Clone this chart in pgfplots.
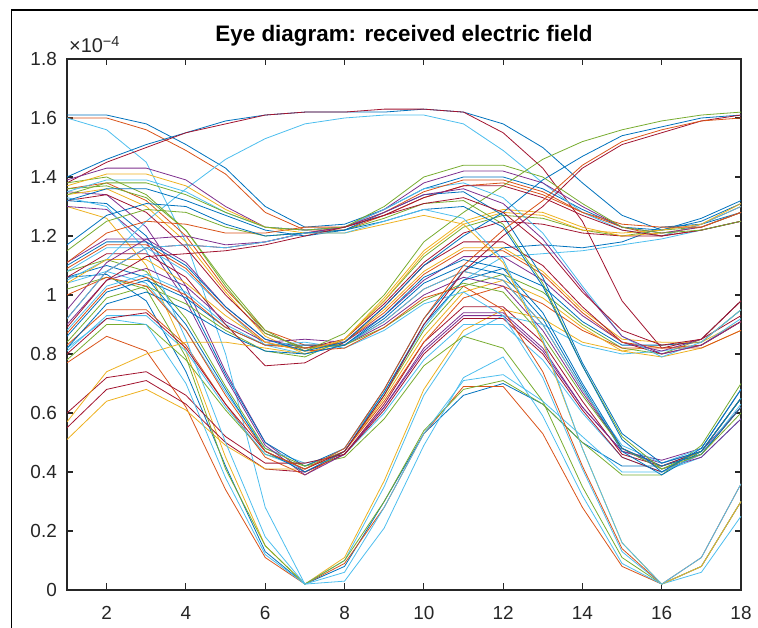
\documentclass[border=0pt]{standalone}
\usepackage{pgfplots}
\pgfplotsset{compat=1.18}
\usepackage{fontspec}
\setmainfont{Liberation Sans}
\definecolor{c1}{RGB}{0,114,189}
\definecolor{c2}{RGB}{217,83,25}
\definecolor{c3}{RGB}{237,177,32}
\definecolor{c4}{RGB}{126,47,142}
\definecolor{c5}{RGB}{119,172,48}
\definecolor{c6}{RGB}{77,190,238}
\definecolor{c7}{RGB}{162,20,47}
\definecolor{ax}{RGB}{38,38,38}
\newcommand{\tr}[2]{\addplot[#1] table[header=false,row sep=\\,x expr=\coordindex+1,y index=0]{#2};}
\begin{document}
\begin{tikzpicture}
\path[use as bounding box] (0,0) rectangle (758bp,628bp);
\draw[line width=1.8bp,black] (11.5bp,0) -- (11.5bp,618bp) -- (758bp,618bp);
\begin{axis}[
  at={(67bp,38bp)}, anchor=south west,
  scale only axis, width=674bp, height=531bp,
  xmin=1, xmax=18, ymin=0, ymax=1.8,
  xtick={2,4,6,8,10,12,14,16,18},
  ytick={0,0.2,0.4,0.6,0.8,1,1.2,1.4,1.6,1.8},
  /pgf/number format/assume math mode=true,
  tick align=inside, major tick length=6.5bp,
  axis line style={line width=1.2bp, color=ax},
  every tick/.style={line width=1.1bp, color=ax},
  tick label style={font=\fontsize{19}{19}\selectfont, color=ax, inner sep=0pt},
  xticklabel style={anchor=base, yshift=-29bp},
  yticklabel style={anchor=base east, xshift=-10bp, yshift=-6.8bp},
  title={Eye diagram: received electric field},
  title style={font=\bfseries\fontsize{22.5}{26}\selectfont, at={(0.5,1)}, anchor=base, yshift=12bp, inner sep=0pt},
  every axis plot/.append style={line width=0.8bp, no marks},
]
\tr{c1}{1.06\\1.07\\0.98\\0.74\\0.42\\0.13\\0.02\\0.08\\0.30\\0.53\\0.66\\0.70\\0.63\\0.50\\0.42\\0.42\\0.47\\0.65\\}
\tr{c2}{0.77\\0.86\\0.81\\0.62\\0.34\\0.11\\0.02\\0.09\\0.28\\0.53\\0.69\\0.69\\0.53\\0.28\\0.08\\0.02\\0.08\\0.30\\}
\tr{c1}{1.61\\1.61\\1.58\\1.51\\1.43\\1.30\\1.23\\1.24\\1.29\\1.36\\1.40\\1.40\\1.36\\1.29\\1.23\\1.22\\1.25\\1.31\\}
\tr{c3}{1.30\\1.26\\1.10\\0.81\\0.45\\0.15\\0.02\\0.11\\0.37\\0.68\\0.88\\0.95\\0.92\\0.84\\0.81\\0.83\\0.84\\0.91\\}
\tr{c4}{1.35\\1.34\\1.23\\1.03\\0.74\\0.50\\0.40\\0.46\\0.62\\0.81\\0.93\\0.93\\0.81\\0.62\\0.47\\0.43\\0.47\\0.62\\}
\tr{c5}{0.78\\0.90\\0.90\\0.78\\0.61\\0.46\\0.42\\0.47\\0.66\\0.88\\1.03\\1.07\\1.01\\0.90\\0.82\\0.80\\0.85\\0.98\\}
\tr{c2}{1.60\\1.60\\1.56\\1.49\\1.41\\1.28\\1.22\\1.22\\1.27\\1.33\\1.37\\1.38\\1.34\\1.28\\1.23\\1.20\\1.24\\1.30\\}
\tr{c6}{1.04\\1.08\\1.04\\0.88\\0.67\\0.48\\0.43\\0.46\\0.60\\0.78\\0.90\\0.90\\0.78\\0.60\\0.45\\0.40\\0.45\\0.58\\}
\tr{c7}{0.55\\0.68\\0.71\\0.63\\0.50\\0.41\\0.40\\0.46\\0.63\\0.84\\0.96\\0.96\\0.84\\0.64\\0.46\\0.42\\0.47\\0.65\\}
\tr{c1}{1.32\\1.31\\1.20\\1.00\\0.73\\0.50\\0.42\\0.48\\0.68\\0.92\\1.08\\1.16\\1.17\\1.16\\1.18\\1.23\\1.24\\1.28\\}
\tr{c6}{1.60\\1.56\\1.45\\1.18\\0.80\\0.28\\0.02\\0.10\\0.35\\0.66\\0.86\\0.93\\0.90\\0.83\\0.80\\0.81\\0.83\\0.92\\}
\tr{c2}{0.83\\0.95\\0.95\\0.83\\0.63\\0.45\\0.39\\0.47\\0.64\\0.84\\0.99\\1.03\\0.97\\0.88\\0.82\\0.82\\0.83\\0.91\\}
\tr{c3}{0.51\\0.64\\0.68\\0.61\\0.49\\0.41\\0.41\\0.47\\0.65\\0.86\\1.01\\1.05\\0.99\\0.89\\0.81\\0.79\\0.82\\0.88\\}
\tr{c5}{1.08\\1.12\\1.08\\0.92\\0.69\\0.48\\0.42\\0.45\\0.58\\0.76\\0.86\\0.82\\0.64\\0.35\\0.11\\0.02\\0.08\\0.30\\}
\tr{c4}{1.30\\1.29\\1.18\\0.98\\0.72\\0.49\\0.39\\0.46\\0.62\\0.82\\0.94\\0.94\\0.82\\0.62\\0.47\\0.44\\0.48\\0.68\\}
\tr{c1}{1.40\\1.46\\1.51\\1.55\\1.59\\1.61\\1.62\\1.62\\1.62\\1.63\\1.62\\1.58\\1.50\\1.38\\1.27\\1.22\\1.26\\1.32\\}
\tr{c6}{0.81\\0.93\\0.93\\0.81\\0.62\\0.46\\0.41\\0.48\\0.67\\0.89\\1.05\\1.13\\1.14\\1.15\\1.17\\1.19\\1.22\\1.25\\}
\tr{c7}{0.60\\0.72\\0.74\\0.66\\0.52\\0.43\\0.43\\0.46\\0.61\\0.80\\0.92\\0.92\\0.80\\0.61\\0.45\\0.40\\0.46\\0.62\\}
\tr{c1}{1.06\\1.10\\1.06\\0.90\\0.68\\0.47\\0.40\\0.47\\0.67\\0.90\\1.05\\1.09\\1.03\\0.91\\0.83\\0.83\\0.84\\0.95\\}
\tr{c7}{1.38\\1.45\\1.50\\1.55\\1.58\\1.61\\1.62\\1.62\\1.63\\1.63\\1.62\\1.55\\1.43\\1.25\\0.98\\0.82\\0.85\\0.93\\}
\tr{c2}{1.36\\1.38\\1.32\\1.20\\1.02\\0.88\\0.83\\0.83\\0.91\\1.02\\1.08\\1.05\\0.90\\0.68\\0.48\\0.42\\0.46\\0.62\\}
\tr{c3}{1.34\\1.36\\1.30\\1.18\\1.01\\0.86\\0.80\\0.84\\0.95\\1.08\\1.16\\1.16\\1.08\\0.95\\0.85\\0.84\\0.84\\0.95\\}
\tr{c4}{1.11\\1.19\\1.19\\1.11\\0.96\\0.85\\0.82\\0.83\\0.90\\1.00\\1.06\\1.03\\0.88\\0.67\\0.48\\0.41\\0.45\\0.58\\}
\tr{c5}{1.02\\1.06\\1.02\\0.79\\0.41\\0.15\\0.02\\0.10\\0.30\\0.54\\0.68\\0.71\\0.63\\0.50\\0.39\\0.39\\0.49\\0.70\\}
\tr{c5}{0.84\\0.99\\1.03\\0.97\\0.88\\0.81\\0.79\\0.85\\0.98\\1.13\\1.23\\1.27\\1.26\\1.22\\1.20\\1.22\\1.23\\1.28\\}
\tr{c6}{0.88\\1.03\\1.07\\1.01\\0.90\\0.83\\0.84\\0.82\\0.88\\0.97\\1.01\\0.93\\0.72\\0.41\\0.13\\0.02\\0.08\\0.30\\}
\tr{c7}{1.06\\1.14\\1.14\\1.06\\0.90\\0.76\\0.77\\0.84\\0.96\\1.10\\1.18\\1.18\\1.10\\0.96\\0.84\\0.80\\0.83\\0.91\\}
\tr{c6}{1.05\\1.12\\1.25\\1.36\\1.46\\1.53\\1.58\\1.60\\1.61\\1.61\\1.58\\1.49\\1.38\\1.28\\1.22\\1.20\\1.24\\1.30\\}
\tr{c1}{0.86\\1.01\\1.05\\0.99\\0.89\\0.83\\0.83\\0.83\\0.92\\1.04\\1.10\\1.07\\0.92\\0.69\\0.47\\0.39\\0.47\\0.65\\}
\tr{c7}{1.32\\1.34\\1.28\\1.16\\1.00\\0.87\\0.82\\0.85\\0.97\\1.11\\1.21\\1.25\\1.24\\1.21\\1.20\\1.20\\1.22\\1.25\\}
\tr{c6}{1.08\\1.16\\1.16\\1.08\\0.95\\0.83\\0.80\\0.83\\0.91\\1.02\\1.08\\1.05\\0.90\\0.68\\0.49\\0.43\\0.48\\0.68\\}
\tr{c6}{1.33\\1.30\\1.15\\0.85\\0.50\\0.18\\0.02\\0.06\\0.28\\0.53\\0.71\\0.73\\0.64\\0.52\\0.40\\0.40\\0.46\\0.63\\}
\tr{c4}{0.90\\1.05\\1.09\\1.03\\0.91\\0.84\\0.85\\0.84\\0.93\\1.05\\1.13\\1.13\\1.05\\0.93\\0.84\\0.81\\0.85\\0.98\\}
\tr{c5}{1.38\\1.40\\1.34\\1.22\\1.03\\0.87\\0.82\\0.83\\0.89\\0.98\\1.04\\1.01\\0.86\\0.66\\0.48\\0.41\\0.47\\0.65\\}
\tr{c3}{0.57\\0.74\\0.80\\0.84\\0.84\\0.82\\0.80\\0.85\\0.99\\1.15\\1.25\\1.29\\1.28\\1.23\\1.20\\1.21\\1.23\\1.28\\}
\tr{c2}{1.09\\1.17\\1.17\\1.09\\0.95\\0.84\\0.81\\0.82\\0.89\\0.99\\1.03\\0.95\\0.74\\0.42\\0.14\\0.02\\0.11\\0.36\\}
\tr{c6}{0.82\\0.92\\0.90\\0.70\\0.38\\0.12\\0.02\\0.03\\0.21\\0.49\\0.72\\0.79\\0.59\\0.32\\0.09\\0.02\\0.06\\0.25\\}
\tr{c1}{0.82\\0.97\\1.01\\0.95\\0.87\\0.81\\0.80\\0.83\\0.93\\1.06\\1.12\\1.09\\0.94\\0.70\\0.48\\0.42\\0.46\\0.62\\}
\tr{c2}{0.87\\1.02\\1.06\\1.00\\0.89\\0.83\\0.82\\0.84\\0.94\\1.07\\1.15\\1.15\\1.07\\0.94\\0.84\\0.82\\0.82\\0.88\\}
\tr{c3}{1.04\\1.12\\1.12\\1.04\\0.93\\0.84\\0.81\\0.85\\0.98\\1.14\\1.24\\1.28\\1.27\\1.22\\1.21\\1.22\\1.24\\1.31\\}
\tr{c5}{1.36\\1.37\\1.33\\1.22\\1.04\\0.88\\0.81\\0.87\\1.00\\1.18\\1.28\\1.37\\1.46\\1.52\\1.56\\1.59\\1.61\\1.62\\}
\tr{c4}{1.39\\1.43\\1.43\\1.39\\1.30\\1.23\\1.22\\1.23\\1.29\\1.38\\1.42\\1.42\\1.38\\1.30\\1.23\\1.21\\1.23\\1.28\\}
\tr{c5}{1.15\\1.25\\1.29\\1.28\\1.23\\1.20\\1.21\\1.22\\1.26\\1.31\\1.32\\1.24\\1.04\\0.76\\0.52\\0.41\\0.46\\0.60\\}
\tr{c6}{1.35\\1.39\\1.39\\1.35\\1.28\\1.23\\1.22\\1.23\\1.29\\1.36\\1.38\\1.33\\1.21\\1.03\\0.86\\0.79\\0.84\\0.95\\}
\tr{c1}{1.10\\1.18\\1.18\\1.10\\0.96\\0.85\\0.81\\0.84\\0.96\\1.10\\1.20\\1.28\\1.39\\1.47\\1.54\\1.57\\1.60\\1.61\\}
\tr{c7}{0.92\\1.08\\1.16\\1.17\\1.16\\1.18\\1.21\\1.23\\1.27\\1.33\\1.37\\1.37\\1.33\\1.27\\1.22\\1.20\\1.22\\1.25\\}
\tr{c1}{1.32\\1.36\\1.36\\1.32\\1.27\\1.22\\1.20\\1.22\\1.28\\1.34\\1.35\\1.27\\1.06\\0.77\\0.53\\0.43\\0.47\\0.65\\}
\tr{c2}{1.11\\1.21\\1.25\\1.24\\1.21\\1.21\\1.23\\1.23\\1.28\\1.35\\1.39\\1.39\\1.35\\1.28\\1.24\\1.23\\1.23\\1.28\\}
\tr{c7}{0.80\\0.92\\0.94\\0.82\\0.63\\0.47\\0.41\\0.47\\0.66\\0.90\\1.08\\1.20\\1.30\\1.43\\1.51\\1.55\\1.59\\1.61\\}
\tr{c3}{1.37\\1.41\\1.41\\1.37\\1.29\\1.23\\1.21\\1.21\\1.24\\1.27\\1.24\\1.11\\0.84\\0.48\\0.16\\0.02\\0.08\\0.30\\}
\tr{c4}{0.95\\1.11\\1.19\\1.20\\1.17\\1.18\\1.21\\1.23\\1.28\\1.34\\1.36\\1.31\\1.19\\1.02\\0.86\\0.80\\0.83\\0.91\\}
\tr{c5}{1.34\\1.38\\1.38\\1.34\\1.28\\1.23\\1.22\\1.23\\1.30\\1.40\\1.44\\1.44\\1.40\\1.31\\1.23\\1.21\\1.22\\1.25\\}
\tr{c2}{1.00\\1.06\\1.03\\0.88\\0.66\\0.47\\0.41\\0.48\\0.68\\0.92\\1.10\\1.22\\1.32\\1.44\\1.52\\1.56\\1.59\\1.60\\}
\tr{c1}{1.17\\1.27\\1.31\\1.30\\1.24\\1.20\\1.21\\1.22\\1.25\\1.29\\1.30\\1.23\\1.03\\0.76\\0.51\\0.40\\0.48\\0.68\\}
\tr{c7}{0.89\\1.05\\1.13\\1.14\\1.15\\1.17\\1.20\\1.23\\1.27\\1.31\\1.33\\1.28\\1.17\\1.01\\0.88\\0.83\\0.85\\0.98\\}
\tr{c6}{0.92\\1.08\\1.16\\1.17\\1.16\\1.18\\1.21\\1.21\\1.25\\1.29\\1.26\\1.12\\0.85\\0.48\\0.16\\0.02\\0.11\\0.36\\}
\end{axis}
\node[anchor=base west, inner sep=0pt, text=ax] at (69bp,575bp) {\fontsize{20}{20}\selectfont ×10\raisebox{6.5bp}{\fontsize{14.5}{15}\selectfont −4}};
\end{tikzpicture}
\end{document}
